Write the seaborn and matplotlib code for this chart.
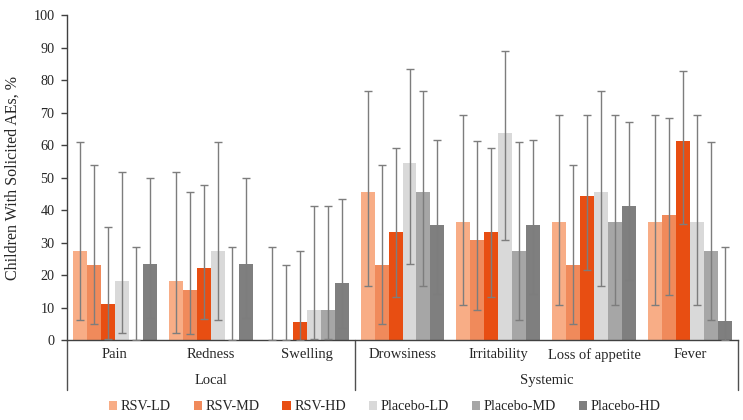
import numpy as np
import pandas as pd
import matplotlib
matplotlib.use("Agg")
import matplotlib.pyplot as plt
import matplotlib.transforms as mtransforms
from matplotlib.patches import Patch
import seaborn as sns

categories = ["Pain", "Redness", "Swelling", "Drowsiness", "Irritability", "Loss of appetite", "Fever"]
groups = ["Local", "Systemic"]
series = ["RSV-LD", "RSV-MD", "RSV-HD", "Placebo-LD", "Placebo-MD", "Placebo-HD"]

rsv_ld = [27.3, 18.2, 0, 45.5, 36.4, 36.4, 36.4]
rsv_ld_lo = [6.0, 2.3, 0, 16.7, 10.9, 10.9, 10.9]
rsv_ld_hi = [61.0, 51.8, 28.5, 76.6, 69.2, 69.2, 69.2]
rsv_md = [23.1, 15.4, 0, 23.1, 30.8, 23.1, 38.5]
rsv_md_lo = [5.0, 1.9, 0, 5.0, 9.1, 5.0, 13.9]
rsv_md_hi = [53.8, 45.4, 23.2, 53.8, 61.4, 53.8, 68.4]
rsv_hd = [11.1, 22.2, 5.6, 33.3, 33.3, 44.4, 61.1]
rsv_hd_lo = [0.3, 6.4, 0.1, 13.3, 13.3, 21.5, 35.7]
rsv_hd_hi = [34.7, 47.6, 27.3, 59.0, 59.0, 69.2, 82.7]
pl_ld = [18.2, 27.3, 9.1, 54.5, 63.6, 45.5, 36.4]
pl_ld_lo = [2.3, 6.0, 0.2, 23.4, 30.8, 16.7, 10.9]
pl_ld_hi = [51.8, 61.0, 41.3, 83.3, 89.1, 76.6, 69.2]
pl_md = [0, 0, 9.1, 45.5, 27.3, 36.4, 27.3]
pl_md_lo = [0, 0, 0.2, 16.7, 6.0, 10.9, 6.0]
pl_md_hi = [28.5, 28.5, 41.3, 76.6, 61.0, 69.2, 61.0]
pl_hd = [23.5, 23.5, 17.6, 35.3, 35.3, 41.2, 5.9]
pl_hd_lo = [6.8, 6.8, 3.8, 14.2, 14.2, 18.4, 0.1]
pl_hd_hi = [49.9, 49.9, 43.4, 61.7, 61.7, 67.1, 28.7]

values = [rsv_ld, rsv_md, rsv_hd, pl_ld, pl_md, pl_hd]
lows = [rsv_ld_lo, rsv_md_lo, rsv_hd_lo, pl_ld_lo, pl_md_lo, pl_hd_lo]
highs = [rsv_ld_hi, rsv_md_hi, rsv_hd_hi, pl_ld_hi, pl_md_hi, pl_hd_hi]
colors = ["#F8AD86", "#F08A5B", "#E84E12", "#D9D9D9", "#A6A6A6", "#7F7F7F"]

rows = []
for s, vals in zip(series, values):
    for c, v in zip(categories, vals):
        rows.append({"Category": c, "Series": s, "Value": v})
df = pd.DataFrame(rows)

sns.set_theme(style="white")
plt.rcParams["font.family"] = "Liberation Serif"
FONT = "Liberation Serif"

fig = plt.figure(figsize=(7.43, 4.2), dpi=100)
ax = fig.add_axes([0.0902, 0.1905, 0.9933 - 0.0902, 0.964 - 0.1905])

sns.barplot(data=df, x="Category", y="Value", hue="Series", order=categories,
            hue_order=series, palette=colors, width=0.875, saturation=1,
            errorbar=None, legend=False, ax=ax, linewidth=0)

for cont, vals, lo, hi in zip(ax.containers, values, lows, highs):
    xs = [p.get_x() + p.get_width() / 2 for p in cont.patches]
    v = np.array(vals, dtype=float)
    yerr = np.vstack([v - np.array(lo), np.array(hi) - v])
    ax.errorbar(xs, v, yerr=yerr, fmt="none", ecolor="#7d7d7d", elinewidth=1.0,
                capsize=3, capthick=1.0, zorder=3)

ax.set_xlim(-0.5, len(categories) - 0.5)
ax.set_ylim(0, 100)
ax.set_yticks(np.arange(0, 101, 10))
ax.set_yticklabels([str(t) for t in range(0, 101, 10)], family=FONT, fontsize=10.2)
ax.tick_params(axis="y", which="both", direction="out", length=4, width=1,
               color="#404040", pad=5, left=True)
ax.tick_params(axis="x", bottom=False, labelbottom=False)
ax.set_xlabel("")
ax.set_ylabel("Children With Solicited AEs, %", fontsize=11.5, labelpad=9, family=FONT)

for side in ["top", "right"]:
    ax.spines[side].set_visible(False)
ax.spines["left"].set_color("#404040")
ax.spines["bottom"].set_color("#404040")
ax.spines["left"].set_linewidth(1)
ax.spines["bottom"].set_linewidth(1)

trans = mtransforms.blended_transform_factory(ax.transData, ax.transAxes)
for i, c in enumerate(categories):
    ax.text(i, -0.046, c, transform=trans, ha="center", va="center", fontsize=10.5, family=FONT)
ax.text(1.0, -0.126, groups[0], transform=trans, ha="center", va="center", fontsize=10.5, family=FONT)
ax.text(4.5, -0.126, groups[1], transform=trans, ha="center", va="center", fontsize=10.5, family=FONT)
for xv in [-0.5, 2.5, 6.5]:
    ax.plot([xv, xv], [0, -0.155], transform=trans, color="#505050", lw=1, clip_on=False)

handles = [Patch(facecolor=col, edgecolor="none", label=s) for s, col in zip(series, colors)]
fig.legend(handles=handles, loc="center", bbox_to_anchor=(0.518, 0.031), ncol=6,
           frameon=False, prop={"family": FONT, "size": 10.2}, handlelength=0.6, handleheight=0.6,
           handletextpad=0.25, columnspacing=1.6)

fig.savefig("out.png", dpi=100)
